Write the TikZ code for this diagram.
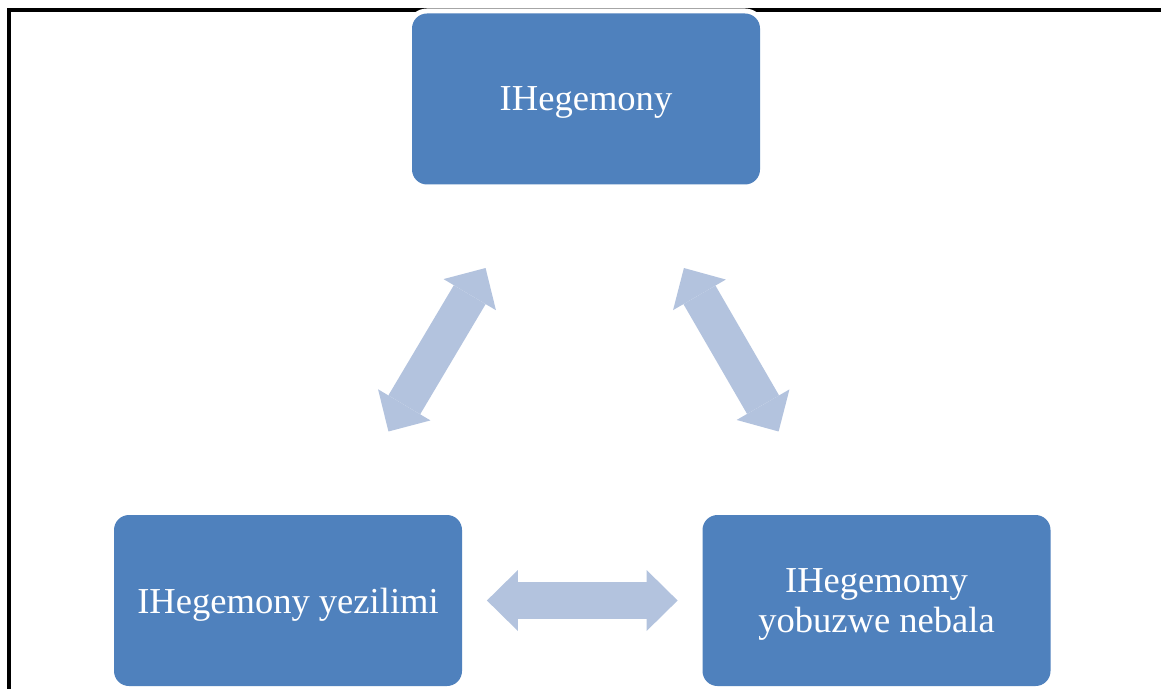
\documentclass[tikz,border=0pt]{standalone}
\usepackage{fontspec}
\setmainfont{Liberation Serif}
\usetikzlibrary{arrows.meta, calc}
\definecolor{hegblue}{HTML}{4F81BD}
\definecolor{heglight}{HTML}{B3C3DE}

\begin{document}
\begin{tikzpicture}[
        box/.style={rectangle, rounded corners=0.3cm, minimum width=6.96cm, minimum height=3.42cm,
            fill=hegblue, text=white, align=center, text depth=-0.05cm,
            font=\fontsize{20.8}{22.4}\selectfont,
            preaction={draw=white, line width=0.2cm}},
        twoway/.style={draw=heglight, line width=0.74cm, {Triangle[length=0.62cm, width=1.22cm, line width=0pt]}-{Triangle[length=0.62cm, width=1.22cm, line width=0pt]}}]
      \useasboundingbox (0,0) rectangle (23.22,13.76);
      \clip (0,0) rectangle (23.22,13.76);

      % Frame
      \draw[line width=0.08cm] (0.18,-0.5) -- (0.18,13.56) -- (24,13.56);

      % Nodes
      \node[box] (top) at (11.72,11.78) {IHegemony};
      \node[box] (left) at (5.76,1.75) {IHegemony yezilimi};
      \node[box] (right) at (17.53,1.75) {IHegemomy\\yobuzwe nebala};

      % Arrows
      \draw[twoway] ($(top)!0.337!(left)$) -- ($(top)!0.663!(left)$);
      \draw[twoway] ($(top)!0.337!(right)$) -- ($(top)!0.663!(right)$);
      \draw[twoway] ($(left)!0.338!(right)$) -- ($(left)!0.662!(right)$);
    \end{tikzpicture}
\end{document}
